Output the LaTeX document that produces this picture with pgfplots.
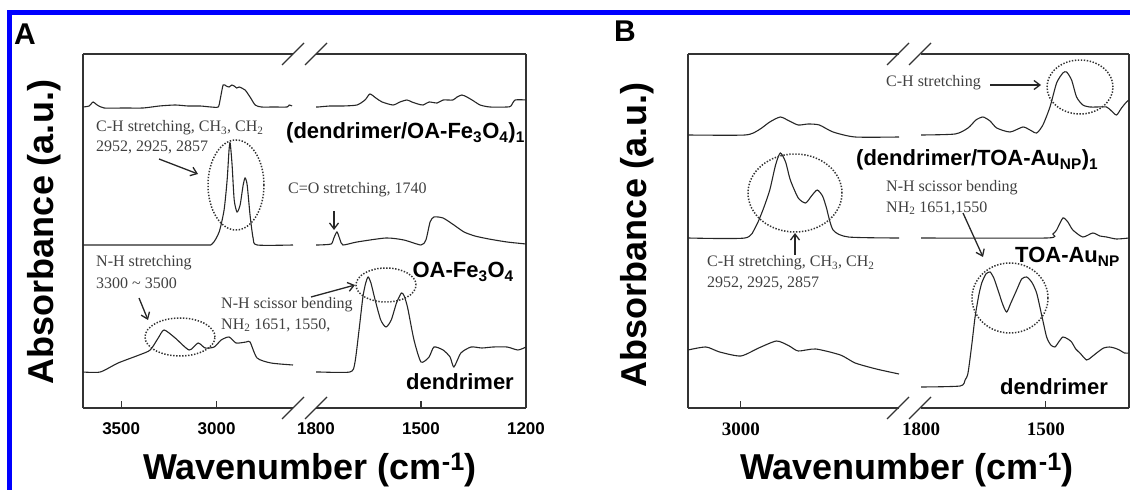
\documentclass[border=0pt]{standalone}
\usepackage{pgfplots}
\pgfplotsset{compat=1.18}
\usetikzlibrary{arrows.meta}
\usepackage{fontspec}
\setmainfont{Liberation Serif}
\newfontfamily\sansf{Liberation Sans}

\newcommand\biglab{\fontsize{36}{40}\selectfont\sansf\bfseries}
\newcommand\leg{\fontsize{22}{26}\selectfont\sansf\bfseries}
\newcommand\ann{\fontsize{16}{19}\selectfont\rmfamily}

\pgfplotsset{
  sp/.style={black!85, line width=1.1pt, smooth, tension=0.4, mark=none},
  seg/.style={scale only axis, anchor=south west, height=354pt,
    ymin=0, ymax=354, ytick=\empty, x dir=reverse,
    axis x line*=box, xtick pos=left, tick align=inside,
    major tick length=7pt,
    axis line style={line width=1.3pt, black!80},
    tick style={line width=1.3pt, black!80},
    extra x tick style={major tick length=0pt},
  },
  tickA/.style={xticklabel style={font=\fontsize{17}{17}\selectfont\sansf\bfseries, yshift=-11pt}},
  tickB/.style={xticklabel style={font=\fontsize{19}{19}\selectfont\rmfamily\bfseries, yshift=-11pt}},
}

\begin{document}
\begin{tikzpicture}[x=1pt,y=1pt]
\path[use as bounding box] (0,0) rectangle (1130,490);
\fill[blue] (7,0) rectangle (12,480);
\fill[blue] (7,475) rectangle (1130,480);

% ---------------- Panel A, left segment
\begin{axis}[seg, tickA, at={(83pt,82pt)}, width=210pt, xmin=2600, xmax=3700,
  axis y line*=left, xtick={3500,3000}, xticklabels={3500,3000}]
\addplot[sp] coordinates {(3700,301)(3668,302)(3647,306)(3626,303)(3589,300)(3480,300)(3385,300)(3300,302)(3217,303)(3150,302)(3086,302)(3030,301)(2992,301)(2982,308)(2966,323)(2950,322)(2935,321)(2920,323)(2908,322)(2895,320)(2882,321)(2851,318)(2825,311)(2798,303)(2766,301)(2700,301)(2631,301)(2620,303)(2605,302)};
\addplot[sp] coordinates {(3700,163)(3086,163)(3024,164)(2987,176)(2961,198)(2945,228)(2935,258)(2929,265)(2919,243)(2908,208)(2893,196)(2877,203)(2861,223)(2851,230)(2840,223)(2825,193)(2809,170)(2788,163)(2600,163)};
\addplot[sp] coordinates {(3700,36)(3610,36)(3516,45)(3406,53)(3348,58)(3306,70)(3275,78)(3217,70)(3144,58)(3097,65)(3060,60)(3013,61)(2976,68)(2935,71)(2898,65)(2845,66)(2825,66)(2788,50)(2715,45)(2600,43)};
\end{axis}

% ---------------- Panel A, right segment
\begin{axis}[seg, tickA, at={(316pt,82pt)}, width=210pt, xmin=1200, xmax=1800,
  axis y line*=right, xtick={1500,1200}, xticklabels={1500,1200},
  extra x ticks={1800}, extra x tick labels={1800}]
\addplot[sp] coordinates {(1800,301)(1794,301)(1760,302)(1723,302)(1683,303)(1660,308)(1646,314)(1629,310)(1611,306)(1580,303)(1560,306)(1540,308)(1526,306)(1509,304)(1494,303)(1477,306)(1454,305)(1437,308)(1409,308)(1397,311)(1383,313)(1369,311)(1354,308)(1331,303)(1303,301)(1254,301)(1243,302)(1231,308)(1200,308)};
\addplot[sp] coordinates {(1800,163)(1794,163)(1757,164)(1749,170)(1740,176)(1731,168)(1723,163)(1683,166)(1600,170)(1549,168)(1500,163)(1486,168)(1474,186)(1463,191)(1437,190)(1406,183)(1377,176)(1346,172)(1306,169)(1254,166)(1200,164)};
\addplot[sp] coordinates {(1800,36)(1794,36)(1703,36)(1689,45)(1677,78)(1666,111)(1658,125)(1651,131)(1643,125)(1631,108)(1615,88)(1600,81)(1585,88)(1570,105)(1556,115)(1548,112)(1538,100)(1520,68)(1500,46)(1477,51)(1463,61)(1437,58)(1417,51)(1406,41)(1386,55)(1357,61)(1326,60)(1294,61)(1254,61)(1223,58)(1200,61)};
\end{axis}

% ---------------- Panel B, left segment
\begin{axis}[seg, tickB, at={(688pt,82pt)}, width=211pt, xmin=2700, xmax=3100,
  axis y line*=left, xtick={3000}, xticklabels={3000}]
\addplot[sp] coordinates {(3100,273)(2992,273)(2966,278)(2945,286)(2925,291)(2908,287)(2891,283)(2872,284)(2851,283)(2825,276)(2783,271)(2700,271)};
\addplot[sp] coordinates {(3100,170)(2992,170)(2972,181)(2958,198)(2945,218)(2934,243)(2925,255)(2915,246)(2906,228)(2891,210)(2877,205)(2866,212)(2855,218)(2845,212)(2838,201)(2825,178)(2796,171)(2700,170)};
\addplot[sp] coordinates {(3100,58)(3066,61)(3040,56)(3000,52)(2966,60)(2932,67)(2908,62)(2891,57)(2858,59)(2811,53)(2783,45)(2743,39)(2700,34)};
\end{axis}

% ---------------- Panel B, right segment
\begin{axis}[seg, tickB, at={(921pt,82pt)}, width=208pt, xmin=1300, xmax=1800,
  axis y line*=right, xtick={1500}, xticklabels={1500},
  extra x ticks={1800}, extra x tick labels={1800}]
\addplot[sp] coordinates {(1800,273)(1718,274)(1687,280)(1668,288)(1651,291)(1634,287)(1618,280)(1586,276)(1555,281)(1538,278)(1522,275)(1507,283)(1490,301)(1474,325)(1459,335)(1450,336)(1438,328)(1426,311)(1411,303)(1394,301)(1378,301)(1354,301)(1342,297)(1330,293)(1318,300)(1306,306)(1300,308)};
\addplot[sp] coordinates {(1800,170)(1498,170)(1483,174)(1474,178)(1459,190)(1447,186)(1435,178)(1411,171)(1387,175)(1370,172)(1354,171)(1330,169)(1300,170)};
\addplot[sp] coordinates {(1800,21)(1706,22)(1694,28)(1687,35)(1678,63)(1670,91)(1661,113)(1654,125)(1644,134)(1634,136)(1625,130)(1615,118)(1603,103)(1594,96)(1584,105)(1570,118)(1558,129)(1546,131)(1534,126)(1522,115)(1510,93)(1498,71)(1488,63)(1478,61)(1469,66)(1459,71)(1447,69)(1438,66)(1428,59)(1418,55)(1402,48)(1390,51)(1378,55)(1361,60)(1347,61)(1335,60)(1323,58)(1311,55)(1300,55)};
\end{axis}

% ---------------- axis breaks
\begin{scope}[line width=1.3pt, black!80]
\foreach \bx in {293,316,898,920}{
  \draw (\bx-11,71) -- (\bx+11,93);
  \draw (\bx-11,425) -- (\bx+11,447);
}
\end{scope}

% ---------------- labels
\node[anchor=base, font=\biglab, inner sep=0] at (310,10) {Wavenumber (cm\textsuperscript{-1})};
\node[anchor=base, font=\biglab, inner sep=0] at (907,10) {Wavenumber (cm\textsuperscript{-1})};
\node[rotate=90, font=\biglab, inner sep=0] at (44,258) {Absorbance (a.u.)};
\node[rotate=90, font=\biglab, inner sep=0] at (637,255) {Absorbance (a.u.)};
\node[anchor=base west, font=\fontsize{30}{30}\selectfont\sansf\bfseries, inner sep=0] at (14,445) {A};
\node[anchor=base west, font=\fontsize{30}{30}\selectfont\sansf\bfseries, inner sep=0] at (614,448) {B};

% ---------------- annotations
\begin{scope}[every node/.style={inner sep=0, text=black!75}]
\node[anchor=west, font=\ann] at (96,362) {C-H stretching, CH\textsubscript{3}, CH\textsubscript{2}};
\node[anchor=west, font=\ann] at (96,343) {2952, 2925, 2857};
\node[anchor=west, font=\ann] at (288,300) {C=O stretching, 1740};
\node[anchor=west, font=\ann] at (96,227) {N-H stretching};
\node[anchor=west, font=\ann] at (96,207) {3300 \textasciitilde{} 3500};
\node[anchor=west, font=\ann] at (221,185) {N-H scissor bending};
\node[anchor=west, font=\ann] at (221,165) {NH\textsubscript{2} 1651, 1550,};
\node[anchor=west, font=\ann] at (886,407) {C-H stretching};
\node[anchor=west, font=\ann] at (886,302) {N-H scissor bending};
\node[anchor=west, font=\ann] at (886,282) {NH\textsubscript{2} 1651,1550};
\node[anchor=west, font=\ann] at (707,227) {C-H stretching, CH\textsubscript{3}, CH\textsubscript{2}};
\node[anchor=west, font=\ann] at (707,207) {2952, 2925, 2857};
\end{scope}
\begin{scope}[every node/.style={inner sep=0, text=black}]
\node[anchor=west, font=\leg] at (286,357) {(dendrimer/OA-Fe\textsubscript{3}O\textsubscript{4})\textsubscript{1}};
\node[anchor=east, font=\leg] at (514,218) {OA-Fe\textsubscript{3}O\textsubscript{4}};
\node[anchor=east, font=\leg] at (514,108) {dendrimer};
\node[anchor=west, font=\leg] at (856,330) {(dendrimer/TOA-Au\textsubscript{NP})\textsubscript{1}};
\node[anchor=east, font=\leg] at (1120,233) {TOA-Au\textsubscript{NP}};
\node[anchor=east, font=\leg] at (1108,103) {dendrimer};
\end{scope}

\begin{scope}[line width=1.3pt, black!85, -{Straight Barb[length=6pt,width=9pt]}]
\draw (159,331) -- (198,316);
\draw (334,279) -- (334,260);
\draw (139,192) -- (148,170);
\draw (311,193) -- (355,205);
\draw (990,405) -- (1041,405);
\draw (963,277) -- (983,233);
\draw (795,235) -- (795,257);
\end{scope}

\begin{scope}[line width=1.5pt, black!80, dash pattern=on 1.4pt off 1.6pt]
\draw (236,305) ellipse [x radius=28, y radius=45];
\draw (180,153) ellipse [x radius=35, y radius=19];
\draw (386,205) ellipse [x radius=30, y radius=17];
\draw (1080,403) ellipse [x radius=33, y radius=27];
\draw (1010,192) ellipse [x radius=38, y radius=35];
\draw (795,297) ellipse [x radius=47, y radius=39];
\end{scope}
\end{tikzpicture}
\end{document}
